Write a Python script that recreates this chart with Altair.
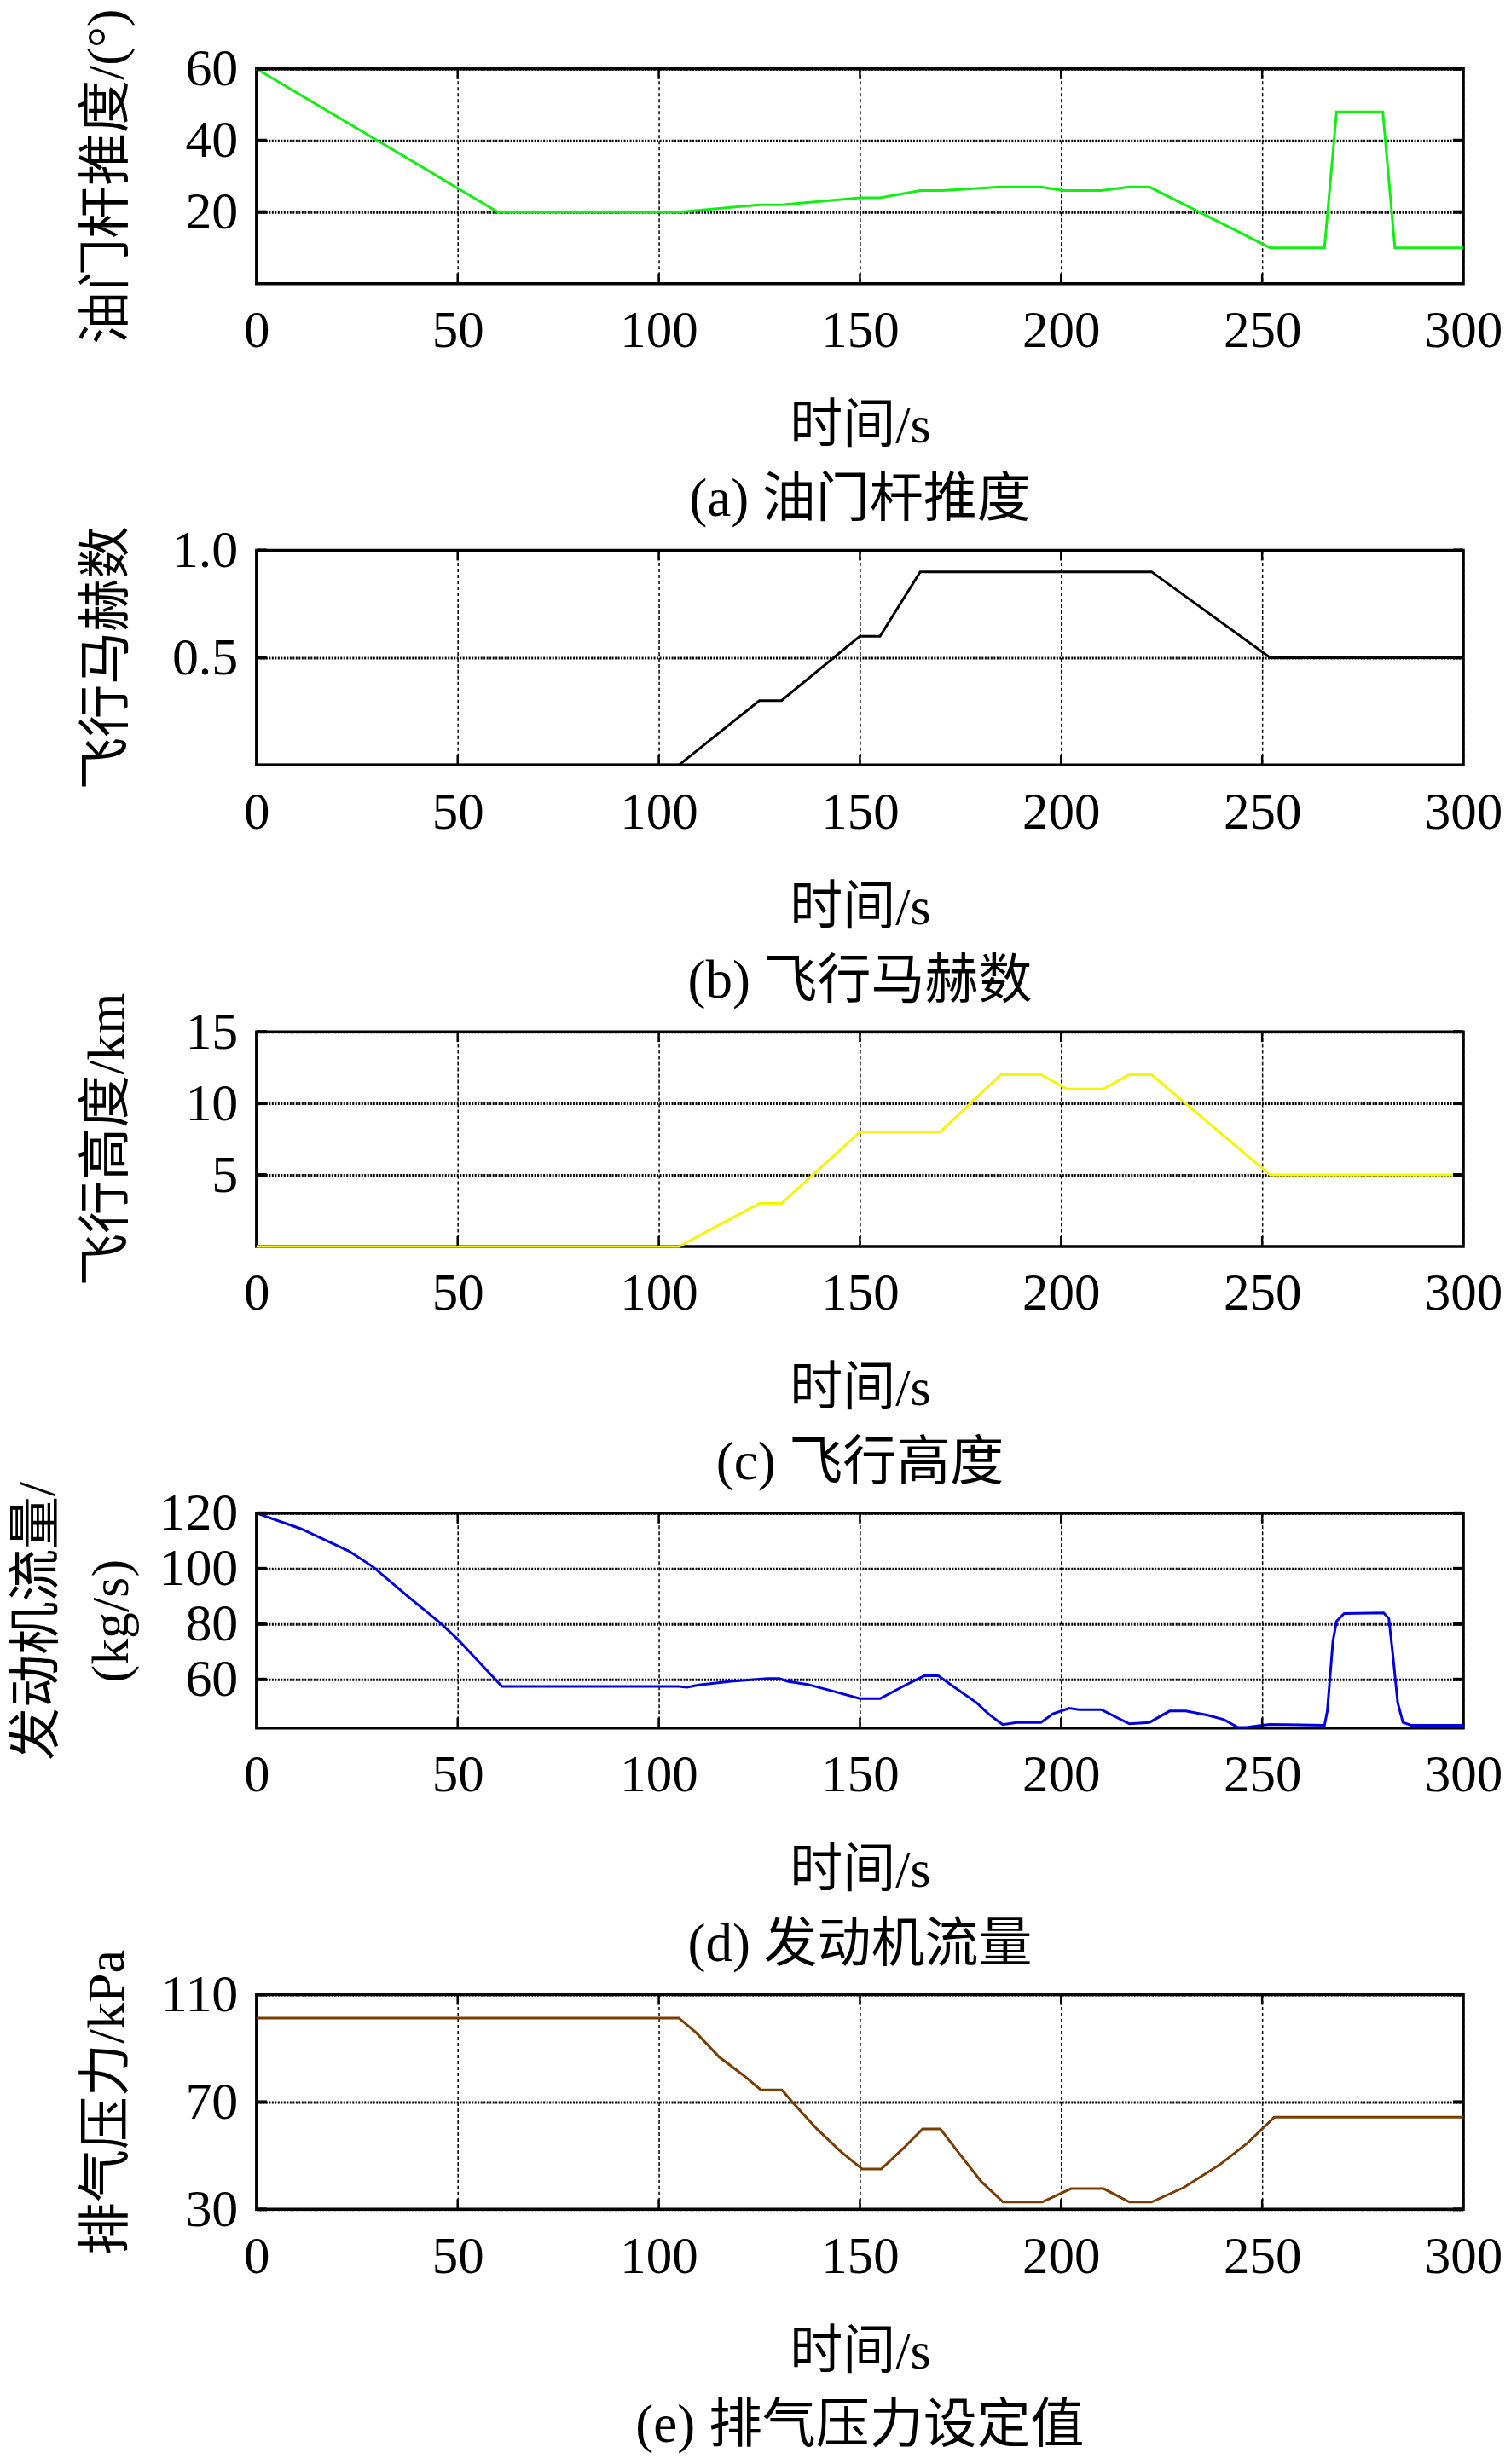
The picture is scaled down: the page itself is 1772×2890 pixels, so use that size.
import altair as alt
import pandas as pd

# ---- data ----
t_a = [0, 60, 105, 125, 130.5, 150, 155, 165, 170.5, 185, 195, 200.5, 210, 217, 222, 252, 265.5, 268.5, 280, 283, 300]
v_a = [60, 20, 20, 22, 22, 24, 24, 26, 26, 27, 27, 26, 26, 27, 27, 10, 10, 48, 48, 10, 10]

t_b = [0, 105, 125, 130.5, 150, 155, 165, 222.5, 252, 300]
v_b = [0, 0, 0.3, 0.3, 0.6, 0.6, 0.9, 0.9, 0.5, 0.5]

t_c = [0, 105, 125, 130.5, 150, 170, 185, 195, 201.5, 210.5, 217, 222.5, 252, 300]
v_c = [0, 0, 3, 3, 8, 8, 12, 12, 11, 11, 12, 12, 5, 5]

t_d = [0, 11, 23, 29, 38, 46, 50, 55, 61, 105, 107, 110, 118, 127, 130, 132, 137, 143, 150, 155,
       161, 166, 169.5, 173, 179, 182, 185.5, 189, 195, 198, 202, 204.5, 210, 217, 222, 227, 231,
       236.5, 240.5, 244, 246, 250, 252, 265.5, 266.2, 267.6, 268.5, 270.4, 280.2, 281.5, 282.5,
       283.7, 285, 287, 300]
v_d = [120, 114.4, 106.3, 100.6, 89.5, 80, 74.5, 66.8, 57.5, 57.5, 57.2, 58, 59.3, 60.3, 60.3, 59.3,
       58.2, 55.9, 53.1, 53.1, 57.7, 61.3, 61.3, 57.7, 51.6, 47.5, 43.7, 44.5, 44.5, 47.6, 49.6, 49.1,
       49.1, 44, 44.5, 48.6, 48.6, 47.1, 45.5, 42.7, 42.7, 43.5, 43.8, 43.5, 48.6, 73.9, 81, 83.8, 84,
       82, 68.8, 51.6, 44.5, 43.5, 43.5]

t_e = [0, 105, 109.3, 115, 121, 125.4, 130.6, 133.5, 139.3, 145.2, 150.6, 155.3, 160.7, 165.6, 170,
       174.3, 180.2, 185.6, 195.3, 202.5, 210.6, 217, 222.5, 230.6, 239.4, 246.2, 253, 300]
v_e = [101.3, 101.3, 95.8, 86.8, 80, 74.5, 74.5, 69.5, 60, 51.6, 45, 45, 52.6, 60, 60, 51.6, 40.3,
       32.7, 32.7, 37.7, 37.7, 32.7, 32.7, 38.2, 46.6, 54.5, 64.3, 64.3]

x_ticks = [0, 50, 100, 150, 200, 250, 300]
x_title = "时间/s"

y_titles = ["油门杆推度/(°)", "飞行马赫数", "飞行高度/km", ["发动机流量/", "(kg/s)"], "排气压力/kPa"]
captions = ["(a) 油门杆推度", "(b) 飞行马赫数", "(c) 飞行高度", "(d) 发动机流量", "(e) 排气压力设定值"]
y_domains = [[0, 60], [0, 1], [0, 15], [42.5, 120], [30, 110]]
y_ticks = [[20, 40, 60], [0.5, 1.0], [5, 10, 15], [60, 80, 100, 120], [30, 70, 110]]
y_formats = ["d", ".1f", "d", "d", "d"]
colors = ["#11ee11", "#000000", "#f5f500", "#0000dd", "#7a3d00"]

FONT = "Liberation Serif, Noto Sans CJK SC"
W, H = 1416, 252
TK = 12  # inward tick length


def panel(t, v, color, ydom, yvals, yfmt, ytitle, caption, title_x):
    df = pd.DataFrame({"t": t, "v": v})
    xsc = alt.Scale(domain=[0, 300], nice=False, zero=False)
    ysc = alt.Scale(domain=ydom, nice=False, zero=False)
    line = alt.Chart(df).mark_line(color=color, strokeWidth=3, clip=False).encode(
        x=alt.X("t:Q", scale=xsc,
                axis=alt.Axis(values=x_ticks, format="d", grid=True, gridColor="black",
                              gridDash=[4, 3], gridWidth=1.5, gridOpacity=1,
                              domain=False, ticks=False, labelPadding=26,
                              labelFont=FONT, labelFontSize=61, labelColor="black",
                              labelFlush=False, labelOverlap=False,
                              title=x_title, titleFont=FONT, titleFontSize=62,
                              titleFontWeight="normal", titleColor="black",
                              titleBaseline="middle", titleY=167, titleX=W / 2)),
        y=alt.Y("v:Q", scale=ysc,
                axis=alt.Axis(values=yvals, format=yfmt, grid=True, gridColor="black",
                              gridDash=[2, 1.5], gridWidth=3, gridOpacity=1,
                              domain=False, ticks=False, labelPadding=22,
                              labelFont=FONT, labelFontSize=62, labelColor="black",
                              labelFlush=False, labelOverlap=False,
                              title=ytitle, titleFont=FONT, titleFontSize=62,
                              titleFontWeight="normal", titleColor="black",
                              titleAngle=270, titleBaseline="middle", titleAlign="center",
                              titleX=title_x, titleY=H / 2, titleLineHeight=87)),
    )
    ydf = pd.DataFrame({"v": yvals})
    xdf = pd.DataFrame({"t": x_ticks[1:-1]})
    ytick_l = alt.Chart(ydf).mark_rule(color="black", strokeWidth=4).encode(
        y=alt.Y("v:Q", scale=ysc), x=alt.value(0), x2=alt.value(TK))
    ytick_r = alt.Chart(ydf).mark_rule(color="black", strokeWidth=4).encode(
        y=alt.Y("v:Q", scale=ysc), x=alt.value(W - TK), x2=alt.value(W))
    xtick_b = alt.Chart(xdf).mark_rule(color="black", strokeWidth=2.5).encode(
        x=alt.X("t:Q", scale=xsc), y=alt.value(H), y2=alt.value(H - TK))
    xtick_t = alt.Chart(xdf).mark_rule(color="black", strokeWidth=2.5).encode(
        x=alt.X("t:Q", scale=xsc), y=alt.value(0), y2=alt.value(TK))
    cap = alt.Chart(pd.DataFrame({"c": [caption]})).mark_text(
        font=FONT, fontSize=63, color="black", align="center", baseline="middle"
    ).encode(x=alt.value(W / 2), y=alt.value(H + 254), text="c:N")
    return alt.layer(line, ytick_l, ytick_r, xtick_b, xtick_t, cap).properties(width=W, height=H)


series = [(t_a, v_a), (t_b, v_b), (t_c, v_c), (t_d, v_d), (t_e, v_e)]
panels = []
for i, (t, v) in enumerate(series):
    tx = -257 if i == 3 else -175
    panels.append(panel(t, v, colors[i], y_domains[i], y_ticks[i], y_formats[i],
                        y_titles[i], captions[i], tx))

chart = alt.vconcat(*panels, spacing=313, bounds="flush").properties(
    padding={"left": 3, "top": -1, "right": 0, "bottom": 0}
).configure(background="white").configure_view(
    stroke="black", strokeWidth=3.5
)

chart.save("out.html", embed_options={"renderer": "svg", "actions": False})
